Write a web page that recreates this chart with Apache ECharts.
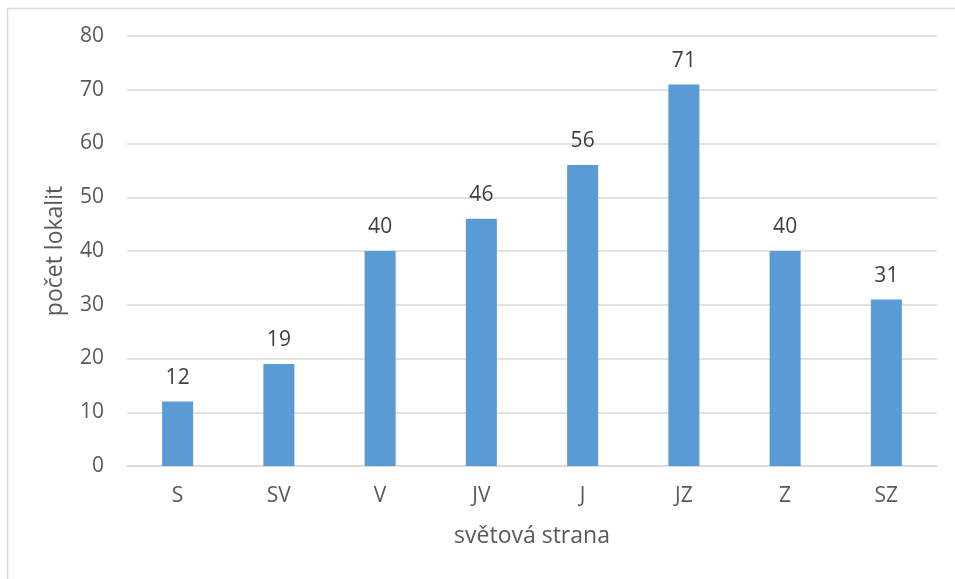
<!DOCTYPE html>
<html>
<head>
<meta charset="utf-8">
<script src="https://cdn.jsdelivr.net/npm/echarts@6/dist/echarts.min.js"></script>
<style>
  html, body { margin: 0; padding: 0; background: #ffffff; }
  #chart { width: 955px; height: 579px; }
</style>
</head>
<body>
<div id="chart"></div>
<script>
// Number of localities by cardinal direction
const categories = ['S', 'SV', 'V', 'JV', 'J', 'JZ', 'Z', 'SZ'];
const localityCounts = [12, 19, 40, 46, 56, 71, 40, 31];

const chart = echarts.init(document.getElementById('chart'), null, { renderer: 'canvas' });
const font = '"Open Sans", "Noto Sans", sans-serif';

chart.setOption({
  backgroundColor: '#ffffff',
  animation: false,
  graphic: [{
    type: 'rect',
    shape: { x: 7.5, y: 8.5, width: 1000, height: 1000 },
    style: { fill: 'none', stroke: '#d9d9d9', lineWidth: 1.5 },
    silent: true
  }],
  grid: { left: 127, right: 18, top: 36, bottom: 113, containLabel: false },
  xAxis: {
    type: 'category',
    data: categories,
    name: 'světová strana',
    nameLocation: 'middle',
    nameGap: 59,
    nameTextStyle: { color: '#595959', fontSize: 23, fontFamily: font },
    axisLine: { lineStyle: { color: '#d9d9d9', width: 1.5 } },
    axisTick: { show: false },
    axisLabel: { color: '#595959', fontSize: 21, fontFamily: font, margin: 20 }
  },
  yAxis: {
    type: 'value',
    min: 0,
    max: 80,
    interval: 10,
    name: 'počet lokalit',
    nameLocation: 'middle',
    nameGap: 60,
    nameTextStyle: { color: '#595959', fontSize: 23, fontFamily: font },
    axisLine: { show: false },
    axisTick: { show: false },
    axisLabel: { color: '#595959', fontSize: 21, fontFamily: font, margin: 23 },
    splitLine: { lineStyle: { color: '#d9d9d9', width: 1.5 } }
  },
  series: [{
    type: 'bar',
    data: localityCounts,
    barWidth: 31,
    itemStyle: { color: '#5b9bd5' },
    label: {
      show: true,
      position: 'top',
      distance: 13,
      color: '#404040',
      fontSize: 21,
      fontFamily: font
    }
  }]
});
</script>
</body>
</html>
